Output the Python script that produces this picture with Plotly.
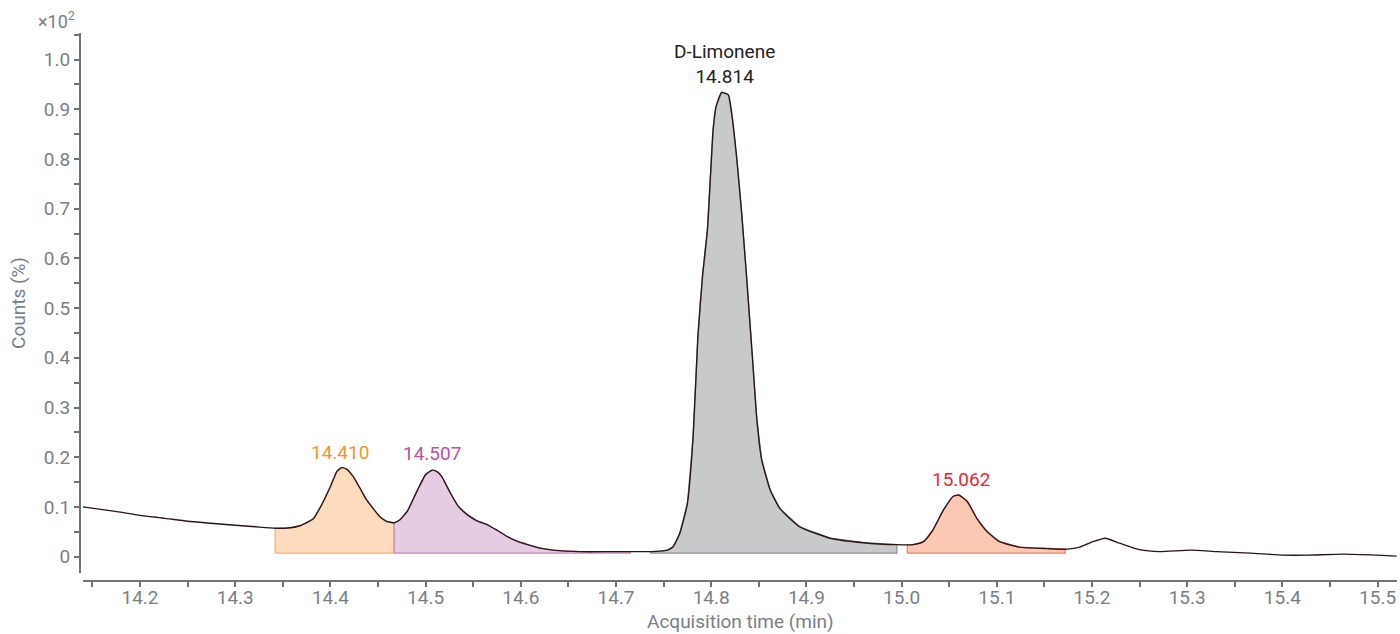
import numpy as np
import plotly.graph_objects as go

# Chromatogram trace (minutes, counts x10^2)
time_min = [14.140, 14.151, 14.174, 14.200, 14.226, 14.250, 14.274, 14.300, 14.321, 14.342,
            14.358, 14.368, 14.382, 14.391, 14.400, 14.407, 14.412, 14.417, 14.424, 14.431,
            14.438, 14.446, 14.452, 14.459, 14.467, 14.473, 14.481, 14.488, 14.494, 14.500,
            14.507, 14.512, 14.517, 14.526, 14.534, 14.544, 14.554, 14.565, 14.575, 14.586,
            14.596, 14.607, 14.620, 14.634, 14.662, 14.697, 14.733, 14.746, 14.754, 14.760,
            14.767, 14.775, 14.781, 14.786, 14.791, 14.796, 14.799, 14.802, 14.805, 14.811,
            14.818, 14.822, 14.827, 14.832, 14.837, 14.843, 14.848, 14.853, 14.862, 14.872,
            14.893, 14.925, 14.960, 14.995, 15.012, 15.023, 15.033, 15.044, 15.054, 15.060,
            15.069, 15.079, 15.090, 15.103, 15.124, 15.153, 15.174, 15.187, 15.201, 15.214,
            15.229, 15.250, 15.271, 15.303, 15.331, 15.366, 15.401, 15.426, 15.464, 15.499,
            15.520]
counts = [0.100, 0.097, 0.091, 0.083, 0.077, 0.071, 0.067, 0.063, 0.060, 0.057,
          0.058, 0.062, 0.076, 0.105, 0.141, 0.172, 0.179, 0.176, 0.161, 0.138,
          0.114, 0.094, 0.080, 0.071, 0.068, 0.074, 0.092, 0.120, 0.144, 0.165,
          0.174, 0.171, 0.161, 0.128, 0.102, 0.084, 0.072, 0.064, 0.053, 0.040,
          0.031, 0.024, 0.017, 0.013, 0.010, 0.010, 0.010, 0.011, 0.013, 0.020,
          0.047, 0.107, 0.241, 0.443, 0.567, 0.657, 0.758, 0.859, 0.905, 0.934,
          0.929, 0.885, 0.798, 0.691, 0.567, 0.409, 0.275, 0.195, 0.134, 0.097,
          0.060, 0.037, 0.028, 0.024, 0.024, 0.030, 0.054, 0.094, 0.121, 0.124,
          0.111, 0.077, 0.050, 0.030, 0.019, 0.016, 0.015, 0.019, 0.030, 0.037,
          0.027, 0.014, 0.010, 0.013, 0.010, 0.007, 0.003, 0.003, 0.005, 0.003,
          0.001]

# Integrated peaks
peak_labels = ["14.410", "14.507", "D-Limonene<br>14.814", "15.062"]
peak_rt = [14.410, 14.507, 14.814, 15.062]
peak_start = [14.342, 14.467, 14.736, 15.006]
peak_end = [14.467, 14.715, 14.995, 15.172]
peak_base = [0.007, 0.007, 0.007, 0.007]
peak_fill = ["#fddbbc", "#e6cce3", "#c8c9cb", "#fbc8b4"]
peak_edge = ["#f5b26e", "#cc86bd", "#8e9093", "#ef7f72"]
label_color = ["#f7941d", "#c0519c", "#222222", "#e8262f"]

x_tick_vals = [14.2, 14.3, 14.4, 14.5, 14.6, 14.7, 14.8, 14.9, 15.0, 15.1, 15.2, 15.3, 15.4, 15.5]
x_tick_text = ["14.2", "14.3", "14.4", "14.5", "14.6", "14.7", "14.8", "14.9", "15.0", "15.1",
               "15.2", "15.3", "15.4", "15.5"]
y_tick_vals = [0, 0.1, 0.2, 0.3, 0.4, 0.5, 0.6, 0.7, 0.8, 0.9, 1.0]
y_tick_text = ["0", "0.1", "0.2", "0.3", "0.4", "0.5", "0.6", "0.7", "0.8", "0.9", "1.0"]

t = np.array(time_min)
c = np.array(counts)

fig = go.Figure()

for i in range(len(peak_rt)):
    s, e, b = peak_start[i], peak_end[i], peak_base[i]
    mask = (t > s) & (t < e)
    xs = [s, s] + list(t[mask]) + [e, e, s]
    ys = [b, float(np.interp(s, t, c))] + list(c[mask]) + [float(np.interp(e, t, c)), b, b]
    fig.add_trace(go.Scatter(x=xs, y=ys, mode="lines", fill="toself",
                             fillcolor=peak_fill[i],
                             line=dict(color=peak_edge[i], width=1.3),
                             hoverinfo="skip", showlegend=False))

fig.add_trace(go.Scatter(x=time_min, y=counts, mode="lines",
                         line=dict(color="#2a1616", width=1.4, shape="spline", smoothing=0.5),
                         showlegend=False))

for i in range(len(peak_rt)):
    fig.add_annotation(x=peak_rt[i], y=float(np.interp(peak_rt[i], t, c)),
                       text=peak_labels[i], showarrow=False, yanchor="bottom",
                       yshift=3, font=dict(size=19, color=label_color[i], family="Roboto"))

axis_col = "#6e7378"
text_col = "#7b7f84"
tick_font = dict(size=19, color=text_col, family="Roboto")

W, H = 1400, 634
ml, mr, mt, mb = 80, 3, 33, 53
pw = W - ml - mr
ph = H - mt - mb

fig.update_layout(
    width=W, height=H,
    margin=dict(l=ml, r=mr, t=mt, b=mb, autoexpand=False),
    plot_bgcolor="white", paper_bgcolor="white",
    font=dict(family="Roboto"),
    xaxis=dict(range=[14.1401, 15.5204], domain=[3 / pw, 1], anchor="free", position=0,
               automargin=False,
               showgrid=False, zeroline=False, showline=True, linecolor=axis_col, linewidth=2,
               ticks="outside", ticklen=5, tickwidth=1.5, tickcolor=axis_col,
               ticklabelstandoff=-6,
               tickvals=x_tick_vals, ticktext=x_tick_text, tickfont=tick_font,
               minor=dict(dtick=0.05, tick0=14.0, ticks="outside", ticklen=5, tickwidth=1.5,
                          tickcolor=axis_col, showgrid=False)),
    yaxis=dict(range=[-0.033, 1.0535], domain=[8 / ph, 1], anchor="free", position=0,
               automargin=False,
               showgrid=False, zeroline=False, showline=True, linecolor=axis_col, linewidth=2,
               ticks="outside", ticklen=5, tickwidth=1.5, tickcolor=axis_col,
               tickvals=y_tick_vals, ticktext=y_tick_text, tickfont=tick_font,
               minor=dict(dtick=0.05, tick0=0, ticks="outside", ticklen=5, tickwidth=1.5,
                          tickcolor=axis_col, showgrid=False),
               title=dict(text="Counts (%)", standoff=12,
                          font=dict(size=19, color=text_col, family="Roboto"))),
)

fig.add_annotation(xref="paper", yref="paper", x=(740 - ml) / pw, y=-(621 - (H - mb)) / ph,
                   xanchor="center", yanchor="middle", text="Acquisition time (min)",
                   showarrow=False, borderpad=0,
                   font=dict(size=19, color=text_col, family="Roboto"))

fig.add_annotation(xref="paper", yref="paper", x=-24 / pw, y=1 + 13 / ph, xanchor="center",
                   yanchor="middle", text="×10<sup>2</sup>", showarrow=False,
                   font=dict(size=18, color=text_col, family="Roboto"))

fig.write_html("out.html", config={"displayModeBar": False},
               post_script="document.body.style.margin='0';")
